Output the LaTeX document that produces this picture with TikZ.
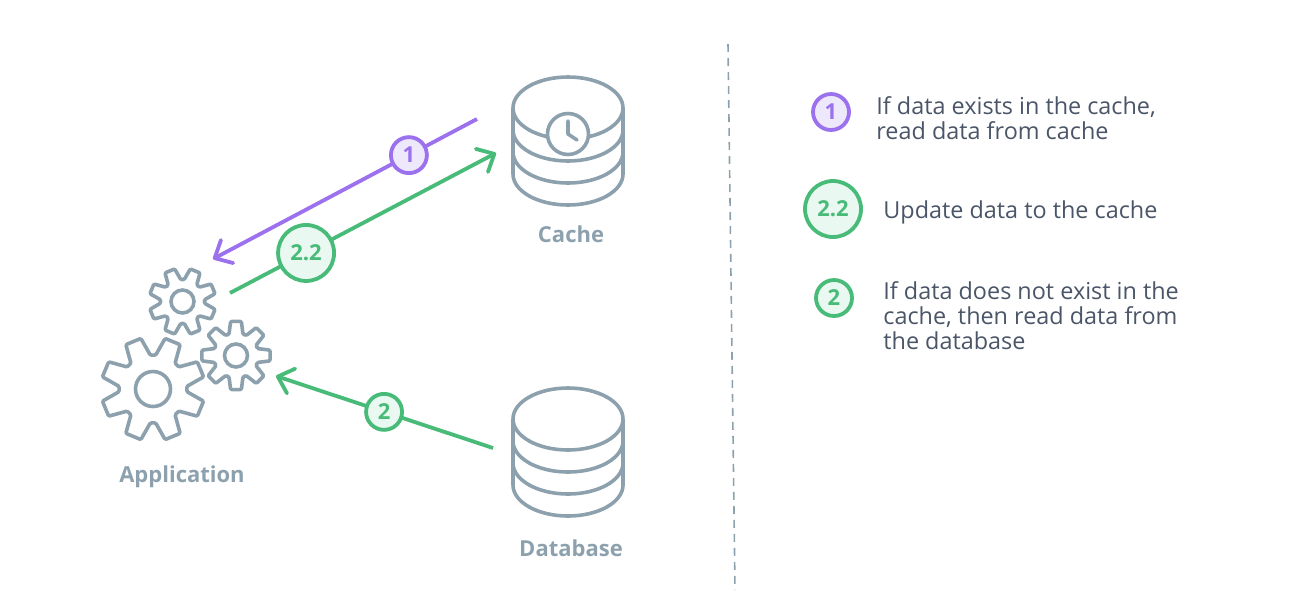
\documentclass[tikz,border=0pt]{standalone}
\usepackage{fontspec}
\setmainfont{Open Sans}
\usetikzlibrary{arrows.meta}
\definecolor{icongray}{HTML}{8CA1AD}
\definecolor{textslate}{HTML}{4A5568}
\definecolor{readpurple}{HTML}{9B71EE}
\definecolor{readfill}{HTML}{EEE8FC}
\definecolor{flowgreen}{HTML}{48BB78}
\definecolor{flowfill}{HTML}{E9F8F0}
\tikzset{
	icon/.style={draw=icongray,line width=1.8pt,line join=round},
	iconlabel/.style={text=icongray,font=\fontsize{11}{13}\selectfont\bfseries},
	legend/.style={text=textslate,align=left,anchor=west,inner sep=0pt,font=\fontsize{11.7}{12.5}\selectfont},
	flow/.style={line width=1.9pt,-{Straight Barb[length=7pt,width=13pt,line width=1.9pt,round]}},
	readflow/.style={flow,draw=readpurple},
	greenflow/.style={flow,draw=flowgreen},
	badge/.style={circle,line width=1.9pt,inner sep=0pt,font=\fontsize{11}{12}\selectfont\bfseries},
	readbadge/.style={badge,draw=readpurple,fill=readfill,text=readpurple,minimum size=18pt},
	greenbadge/.style={badge,draw=flowgreen,fill=flowfill,text=flowgreen,minimum size=18pt},
	bigbadge/.style={greenbadge,minimum size=28pt},
	pics/cogwheel/.style args={#1/#2/#3/#4}{code={
		\draw[icon,rounded corners=.6pt] (#4-18:#2)
			\foreach \k in {0,...,7} {
				-- ({#4+45*\k-18}:#2) -- ({#4+45*\k-9}:#1) -- ({#4+45*\k+9}:#1) -- ({#4+45*\k+18}:#2)
			} -- cycle;
		\draw[icon] (0,0) circle (#3);
	}},
	pics/storage/.style={code={
		\draw[icon] (0,0) ellipse (55 and 31);
		\draw[icon] (-55,0) -- (-55,66) arc[start angle=180,end angle=0,x radius=55,y radius=31] -- (55,0);
		\foreach \dy in {22,44} {
			\draw[icon] (-55,\dy) arc[start angle=180,end angle=0,x radius=55,y radius=31];
		}
	}}
}
\begin{document}
\begin{tikzpicture}[x=.5pt,y=-.5pt]
	\useasboundingbox (0,0) rectangle (1294,612);
	
	% icons
	\pic at (568,108) {storage};
	\draw[icon,fill=white] (568,134) circle (20.5);
	\draw[icon,line cap=round] (568,121) -- (568,134) -- (577,140);
	\pic at (568,419) {storage};
	\pic at (153,389) {cogwheel=52/34/17.5/22.5};
	\pic at (182.5,301.5) {cogwheel=33.5/22/11.5/22.5};
	\pic at (236,355.5) {cogwheel=34.5/22.5/11.5/0};
	
	\node[iconlabel] (cachelabel) at (571,234) {Cache};
	\node[iconlabel] (dblabel) at (571,548) {Database};
	\node[iconlabel] (applabel) at (182,477) {Application};
	
	% connectors
	\coordinate (cacheout) at (477,119);
	\coordinate (appin) at (213,259);
	\coordinate (appout) at (230,293);
	\coordinate (cachein) at (496,153);
	\coordinate (dbout) at (493,448);
	\coordinate (appdb) at (276,376);
	\draw[readflow] (cacheout) -- (appin) node[readbadge,pos=.258] (numread) {1};
	\draw[greenflow] (appout) -- (cachein) node[bigbadge,pos=.286] (numupdate) {2.2};
	\draw[greenflow] (dbout) -- (appdb) node[greenbadge,pos=.502] (numdb) {2};
	
	% divider
	\coordinate (divtop) at (728,44);
	\coordinate (divbot) at (735,590);
	\draw[icongray,line width=.8pt,dash pattern=on 4pt off 3pt] (divtop) -- (divbot);
	
	% legend
	\node[readbadge] (keyread) at (831,112) {1};
	\node[bigbadge] (keyupdate) at (833,209) {2.2};
	\node[greenbadge] (keydb) at (834,298) {2};
	\node[legend] (textread) at (876,118) {If data exists in the cache,\\read data from cache};
	\node[legend] (textupdate) at (883,212) {Update data to the cache};
	\node[legend] (textdb) at (883,316) {If data does not exist in the\\cache, then read data from\\the database};
\end{tikzpicture}
\end{document}
